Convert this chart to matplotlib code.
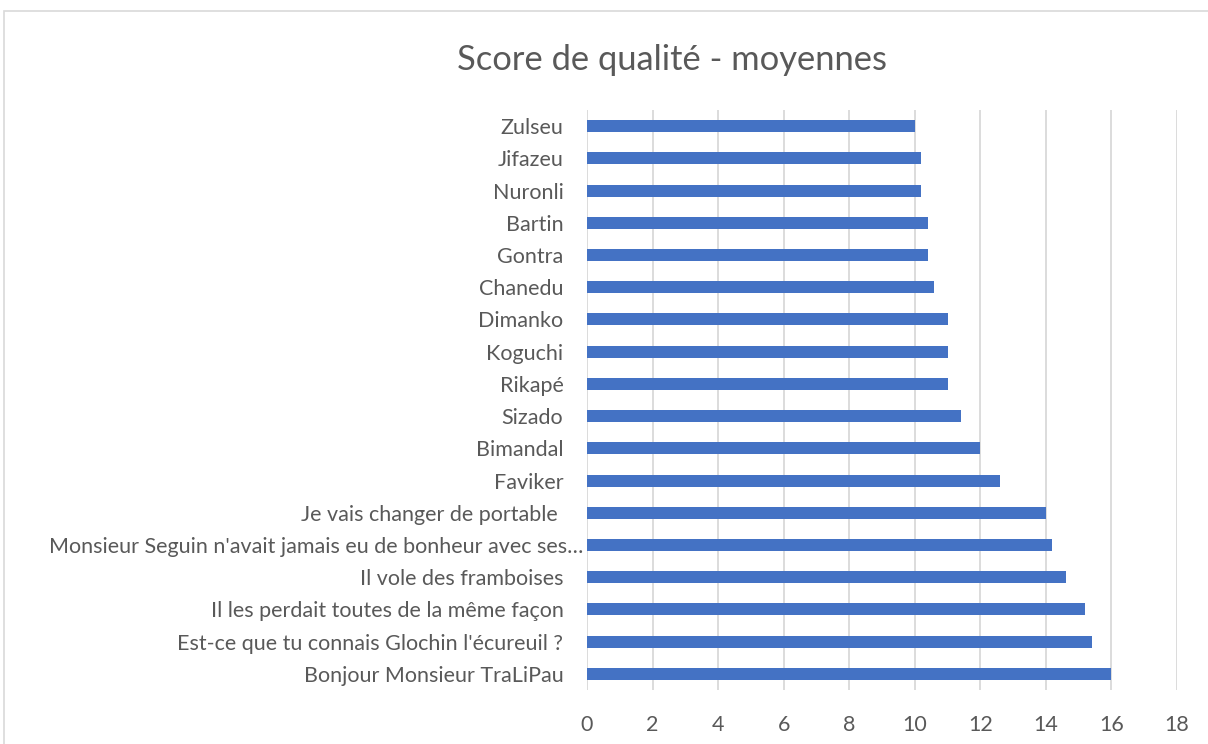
import matplotlib
matplotlib.use("Agg")
import matplotlib.pyplot as plt
from matplotlib.patches import Rectangle
import matplotlib.transforms as mtransforms

categories = [
    "Zulseu", "Jifazeu", "Nuronli", "Bartin", "Gontra", "Chanedu", "Dimanko",
    "Koguchi", "Rikapé", "Sizado", "Bimandal", "Faviker",
    "Je vais changer de portable ",
    "Monsieur Seguin n'avait jamais eu de bonheur avec ses…",
    "Il vole des framboises",
    "Il les perdait toutes de la même façon",
    "Est-ce que tu connais Glochin l'écureuil ?",
    "Bonjour Monsieur TraLiPau",
]
values = [10.0, 10.2, 10.2, 10.4, 10.4, 10.6, 11.0, 11.0, 11.0, 11.4,
          12.0, 12.6, 14.0, 14.2, 14.6, 15.2, 15.4, 16.0]
xticks = [0, 2, 4, 6, 8, 10, 12, 14, 16, 18]
title = "Score de qualité - moyennes"

plt.rcParams['font.family'] = ['Lato', 'DejaVu Sans']
txt = "#595959"
W, H = 1208, 744
fig = plt.figure(figsize=(W / 100, H / 100), dpi=100)
fig.patches.append(Rectangle((4 / W, -0.1), 1.2, 1 - 11 / H + 0.1,
                             transform=fig.transFigure, fill=False,
                             edgecolor="#D9D9D9", linewidth=1.2))

ax = fig.add_axes([587 / W, 1 - 690 / H, (1177 - 587) / W, (690 - 110) / H])
ypos = list(range(len(categories)))
ax.barh(ypos, values, height=0.37, color="#4472C4", zorder=3)
ax.set_ylim(len(categories) - 0.5, -0.5)
ax.set_xlim(0, 18)
ax.set_xticks(xticks)
ax.set_xticklabels([str(t) for t in xticks])
ax.set_yticks(ypos)
ax.set_yticklabels(categories)
ax.grid(axis="x", color="#D9D9D9", linewidth=1.3, zorder=0)
for s in ax.spines.values():
    s.set_visible(False)
ax.tick_params(axis="both", length=0, colors=txt, labelsize=15.5)
ax.tick_params(axis="x", pad=18)
ax.tick_params(axis="y", pad=17)
for lab in ax.get_yticklabels():
    if lab.get_text().startswith("Monsieur Seguin"):
        lab.set_transform(lab.get_transform() +
                          mtransforms.ScaledTranslation(20 / 100, 0, fig.dpi_scale_trans))

fig.text(672 / W, 1 - 60 / H, title, ha="center", va="center",
         fontsize=24.8, color=txt)
fig.savefig("out.png", dpi=100)
